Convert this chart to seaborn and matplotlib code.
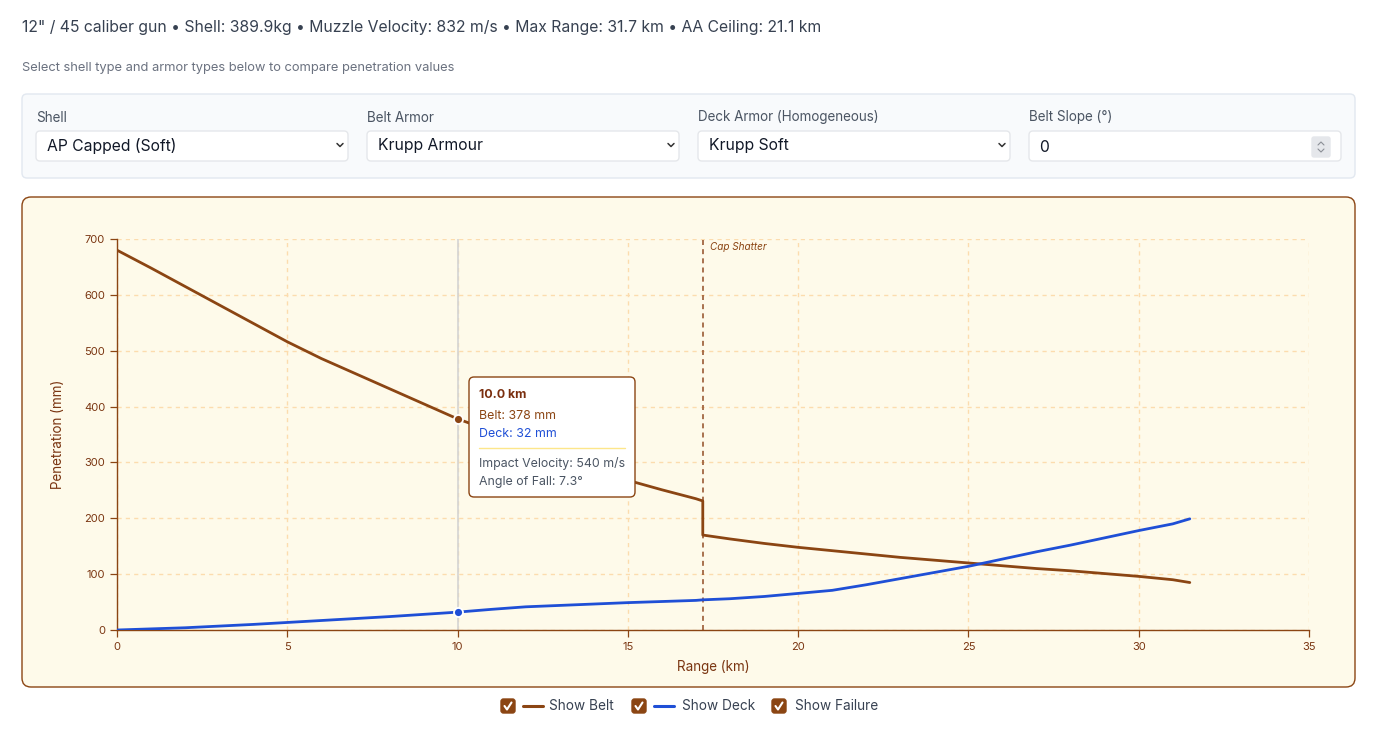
import numpy as np
import pandas as pd
import matplotlib
matplotlib.use("Agg")
import matplotlib.pyplot as plt
import seaborn as sns
from matplotlib.patches import FancyBboxPatch
from matplotlib.lines import Line2D

# data
range_km = [0, 1, 2, 3, 4, 5, 6, 7, 8, 9, 10, 11, 12, 13, 14, 15, 16, 17, 17.2,
            17.2, 18, 19, 20, 21, 22, 23, 24, 25, 26, 27, 28, 29, 30, 31, 31.5]
belt_mm = [680, 648, 615, 582, 549, 516, 486, 459, 432, 405, 378, 356, 335, 313, 291, 268, 251, 235, 231,
           170, 163, 155, 148, 142, 136, 130, 125, 120, 115, 110, 106, 101, 96, 90, 85]
deck_mm = [0, 2, 4, 7, 10, 13.5, 17, 20.5, 24, 28, 32, 37, 41.5, 44, 46.5, 49, 51, 53, 54,
           54, 56, 60, 65.5, 71, 81, 92, 103, 114, 127, 140, 152, 165, 178, 190, 199]
cap_shatter_km = 17.2
hover_km = 10

header = "12\" / 45 caliber gun \u2022 Shell: 389.9kg \u2022 Muzzle Velocity: 832 m/s \u2022 Max Range: 31.7 km \u2022 AA Ceiling: 21.1 km"
subheader = "Select shell type and armor types below to compare penetration values"
control_labels = ["Shell", "Belt Armor", "Deck Armor (Homogeneous)", "Belt Slope (\u00b0)"]
control_values = ["AP Capped (Soft)", "Krupp Armour", "Krupp Soft", "0"]
tooltip_extra = ["Impact Velocity: 540 m/s", "Angle of Fall: 7.3\u00b0"]
legend_labels = ["Show Belt", "Show Deck", "Show Failure"]

BELT = "#8B4513"
DECK = "#1f4fd6"
BROWN_TXT = "#7a3511"
GRID = "#fcdcae"

sns.set_style("white")
plt.rcParams["font.family"] = ["Inter", "DejaVu Sans"]

W, H = 1376, 737
fig = plt.figure(figsize=(W / 100, H / 100), dpi=100)
T = fig.dpi_scale_trans


def rbox(x0, y0, x1, y1, fc, ec, lw=1.0, r=6, z=-5):
    p = FancyBboxPatch((x0 / 100, (H - y1) / 100), (x1 - x0) / 100, (y1 - y0) / 100,
                       boxstyle=f"round,pad=0,rounding_size={r / 100}",
                       transform=T, fc=fc, ec=ec, lw=lw, zorder=z)
    fig.add_artist(p)


def txt(x, y, s, **kw):
    kw.setdefault("va", "center")
    fig.text(x / 100, (H - y) / 100, s, transform=T, **kw)


def seg(xs, ys, **kw):
    fig.add_artist(Line2D([x / 100 for x in xs], [(H - y) / 100 for y in ys], transform=T, **kw))


# header
txt(22, 27.5, header, fontsize=11.33, color="#374151")
txt(22, 67.5, subheader, fontsize=9.3, color="#6b7280")

# controls panel
rbox(22, 94, 1355, 178, "#f8fafc", "#e2e8f0", r=5)
box_x = [36, 367, 698, 1029]
for i, (lab, val) in enumerate(zip(control_labels, control_values)):
    x0 = box_x[i]
    txt(x0, 117.5, lab, fontsize=9.7, color="#4b5563")
    rbox(x0, 131, x0 + 312, 161, "white", "#e5e7eb", r=4, z=-4)
    if i < 3:
        txt(x0 + 11, 145.5, val, fontsize=11.3, color="#111827")
        cx = x0 + 304
        seg([cx - 3, cx, cx + 3], [143.5, 146.5, 143.5], color="#333333", lw=1.1)
    else:
        txt(x0 + 10, 148, val, fontsize=11.3, color="#111827")
        rbox(1312, 137, 1330, 157, "#e5e7eb", "#e5e7eb", r=2, z=-3)
        seg([1318, 1321, 1324], [145, 142, 145], color="#8b8f96", lw=0.8)
        seg([1318, 1321, 1324], [149, 152, 149], color="#8b8f96", lw=0.8)

# chart panel
rbox(22, 197, 1355, 687, "#fefaea", BELT, lw=1.0, r=9)

df = pd.DataFrame({"range": range_km, "belt": belt_mm, "deck": deck_mm})

ax = fig.add_axes([117 / W, 1 - 630 / H, (1309 - 117) / W, (630 - 239) / H])
ax.set_facecolor("none")
ax.set_xlim(0, 35)
ax.set_ylim(0, 700)
ax.set_xticks(range(0, 36, 5))
ax.set_yticks(range(0, 701, 100))
ax.grid(True, color=GRID, lw=1.0, ls=(0, (3, 3)))
for s in ["top", "right"]:
    ax.spines[s].set_visible(False)
for s in ["left", "bottom"]:
    ax.spines[s].set_color(BELT)
    ax.spines[s].set_linewidth(1.0)
ax.tick_params(axis="both", colors=BELT, labelcolor=BROWN_TXT, labelsize=8, length=5, width=0.9,
               direction="out", bottom=True, left=True)

ax.axvline(hover_km, color="#d4d4d4", lw=1.2, zorder=1)
ax.axvline(cap_shatter_km, color="#9a5a34", lw=1.2, ls=(0, (3, 2.5)), zorder=1)
ax.annotate("Cap Shatter", (cap_shatter_km, 700), xytext=(5, -6), textcoords="offset points",
            fontsize=7.2, style="italic", color=BELT, va="center")

sns.lineplot(data=df, x="range", y="belt", ax=ax, color=BELT, lw=2.0, estimator=None, sort=False, zorder=3)
sns.lineplot(data=df, x="range", y="deck", ax=ax, color=DECK, lw=2.0, estimator=None, sort=False, zorder=3)

hi = range_km.index(hover_km)
ax.scatter([hover_km], [belt_mm[hi]], s=42, color=BELT, edgecolor="white", lw=1.3, zorder=4)
ax.scatter([hover_km], [deck_mm[hi]], s=42, color=DECK, edgecolor="white", lw=1.3, zorder=4)

ax.set_xlabel("Range (km)", fontsize=9.7, color=BROWN_TXT, labelpad=6)
ax.set_ylabel("Penetration (mm)", fontsize=9.7, color=BROWN_TXT, labelpad=14)

# tooltip
rbox(469, 377, 635, 497, "white", BELT, lw=1.0, r=5, z=5)
txt(479, 395, f"{hover_km:.1f} km", fontsize=8.9, weight="bold", color="#7a2e0e", zorder=6)
txt(479, 416, f"Belt: {belt_mm[hi]} mm", fontsize=8.9, color=BELT, zorder=6)
txt(479, 434, f"Deck: {deck_mm[hi]} mm", fontsize=8.9, color=DECK, zorder=6)
seg([479, 625], [448, 448], color="#fde68a", lw=1.0, zorder=6)
txt(479, 463, tooltip_extra[0], fontsize=8.9, color="#4b5563", zorder=6)
txt(479, 482, tooltip_extra[1], fontsize=8.9, color="#4b5563", zorder=6)

# bottom legend
cb_x = [501, 632, 772]
line_cols = [BELT, DECK, None]
text_x = [549, 682, 795]
for cx, lc, tx, lab in zip(cb_x, line_cols, text_x, legend_labels):
    rbox(cx, 699, cx + 14, 713, BELT, BELT, r=2.5, z=2)
    seg([cx + 3.5, cx + 6, cx + 10.5], [706, 709.5, 702.5], color="white", lw=1.5, zorder=3)
    if lc:
        seg([cx + 22, cx + 42], [706, 706], color=lc, lw=2.2)
    txt(tx, 706.5, lab, fontsize=9.8, color="#374151")

fig.savefig("out.png", dpi=100)
